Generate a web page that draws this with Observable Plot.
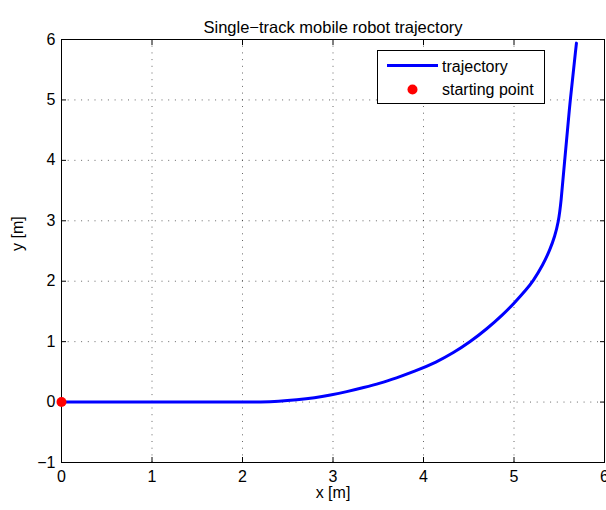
<!DOCTYPE html>
<html>
<head>
<meta charset="utf-8">
<script src="https://cdn.jsdelivr.net/npm/d3@7"></script>
<script src="https://cdn.jsdelivr.net/npm/@observablehq/plot@0.6"></script>
<style>
  body { margin: 0; background: #fff; }
  #chart { position: relative; width: 606px; height: 510px; font-family: "Liberation Sans", Arial, Helvetica, sans-serif; }
  #legend { position: absolute; left: 377px; top: 50px; }
</style>
</head>
<body>
<div id="chart"></div>
<script>
// Robot path in the plane (metres)
const trajX = [0, 1, 2, 2.2, 2.4, 2.6, 2.8, 2.97, 3.15, 3.34, 3.52, 3.70, 3.89, 4.15, 4.33, 4.51, 4.70, 4.88, 5.01, 5.14, 5.21, 5.32, 5.40, 5.45, 5.49, 5.52, 5.56, 5.62, 5.69];
const trajY = [0, 0, 0, 0, 0.01, 0.035, 0.07, 0.115, 0.17, 0.24, 0.31, 0.40, 0.50, 0.665, 0.815, 0.99, 1.21, 1.45, 1.65, 1.87, 2.0, 2.27, 2.53, 2.74, 2.97, 3.3, 4.0, 5.0, 5.94];

// Where the robot starts
const startX = [0];
const startY = [0];

const xTicks = [0, 1, 2, 3, 4, 5, 6];
const yTicks = [-1, 0, 1, 2, 3, 4, 5, 6];

const titleText = "Single\u2212track mobile robot trajectory";
const xLabel = "x [m]";
const yLabel = "y [m]";
const legendLabels = ["trajectory", "starting point"];

const lineColor = "#0000ff";
const dotColor = "#ff0000";
const font = "Liberation Sans, Arial, Helvetica, sans-serif";

const gridStyle = { stroke: "#000", strokeOpacity: 0.6, strokeDasharray: "1,5.7" };
const intFormat = d3.format("d");

const chart = Plot.plot({
  width: 606,
  height: 510,
  marginLeft: 61,
  marginRight: 2,
  marginTop: 39,
  marginBottom: 48,
  style: { fontFamily: font, fontSize: "16px", color: "#000", background: "#fff" },
  x: { domain: [0, 6], ticks: xTicks, label: null },
  y: { domain: [-1, 6], ticks: yTicks, label: null },
  marks: [
    Plot.gridX(xTicks, gridStyle),
    Plot.gridY(yTicks, gridStyle),
    Plot.axisX(xTicks, { anchor: "bottom", tickSize: -5, tickPadding: 13, tickFormat: intFormat, label: null }),
    Plot.axisX(xTicks, { anchor: "top", tickSize: -5, tickFormat: () => "", label: null }),
    Plot.axisY(yTicks, { anchor: "left", tickSize: -5, tickPadding: 11, tickFormat: intFormat, label: null }),
    Plot.axisY(yTicks, { anchor: "right", tickSize: -5, tickFormat: () => "", label: null }),
    Plot.frame({ stroke: "#000" }),
    Plot.line({ length: trajX.length }, { x: trajX, y: trajY, stroke: lineColor, strokeWidth: 3, curve: "basis" }),
    Plot.dot({ length: startX.length }, { x: startX, y: startY, r: 5, fill: dotColor, stroke: "none" }),
    Plot.text([titleText], { frameAnchor: "top", dy: -18, fontSize: 16.5 }),
    Plot.text([xLabel], { frameAnchor: "bottom", dy: 35, fontSize: 16 }),
    Plot.text([yLabel], { frameAnchor: "left", dx: -44, rotate: -90, fontSize: 16 })
  ]
});

const host = document.getElementById("chart");
host.appendChild(chart);

// Legend box drawn over the upper right of the axes
const ns = "http://www.w3.org/2000/svg";
const lg = document.createElementNS(ns, "svg");
lg.setAttribute("id", "legend");
lg.setAttribute("width", 168);
lg.setAttribute("height", 54);
lg.innerHTML = `
  <rect x="0.5" y="0.5" width="167" height="53" fill="#fff" stroke="#000"/>
  <line x1="10" x2="61" y1="15.5" y2="15.5" stroke="${lineColor}" stroke-width="3"/>
  <text x="65" y="21.5" font-family="${font}" font-size="16">${legendLabels[0]}</text>
  <circle cx="35.5" cy="39.5" r="5" fill="${dotColor}"/>
  <text x="65" y="45" font-family="${font}" font-size="16">${legendLabels[1]}</text>`;
host.appendChild(lg);
</script>
</body>
</html>
